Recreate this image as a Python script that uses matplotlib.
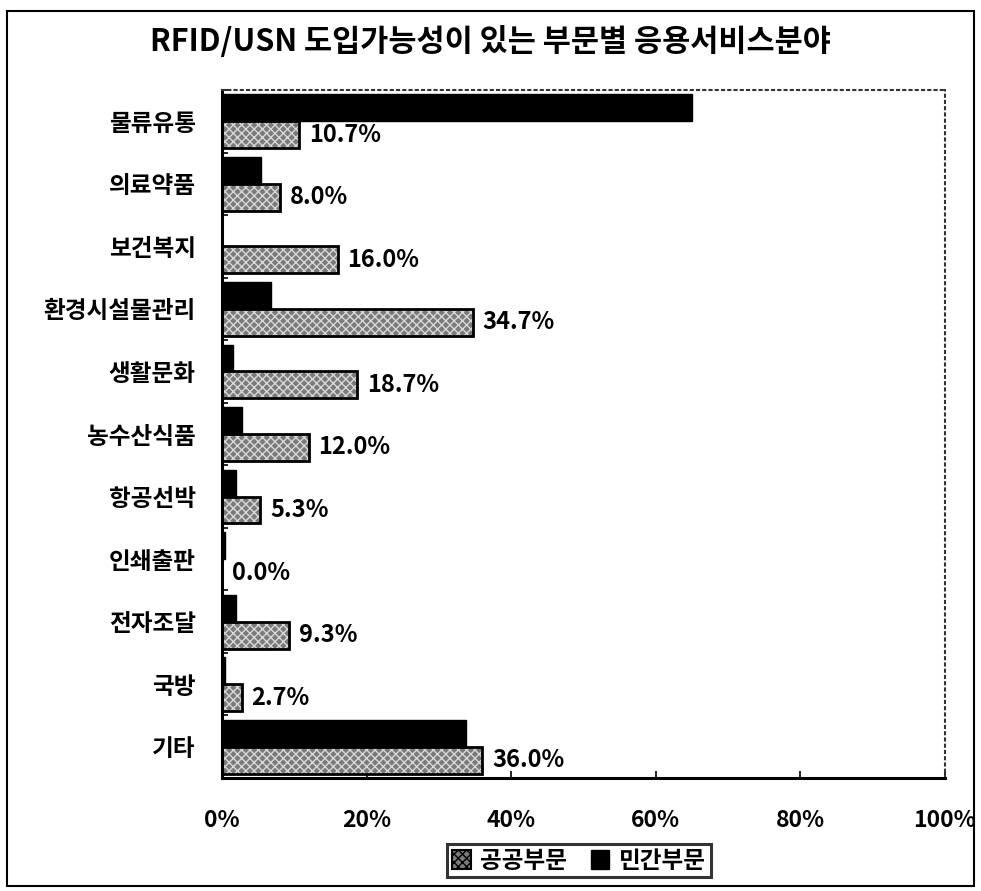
import numpy as np
import matplotlib.pyplot as plt
from matplotlib.patches import Rectangle, Patch

plt.rcParams['font.family'] = ['Noto Sans CJK KR', 'DejaVu Sans']
plt.rcParams['hatch.linewidth'] = 1.0

categories = ['물류유통', '의료약품', '보건복지', '환경시설물관리', '생활문화', '농수산식품',
              '항공선박', '인쇄출판', '전자조달', '국방', '기타']
public = [10.7, 8.0, 16.0, 34.7, 18.7, 12.0, 5.3, 0.0, 9.3, 2.7, 36.0]
private = [65.0, 5.4, 0.0, 6.8, 1.5, 2.7, 2.0, 0.4, 2.0, 0.4, 33.8]
xticks = [0, 20, 40, 60, 80, 100]

fig = plt.figure(figsize=(9.81, 8.91), dpi=100)
fig.patches.append(Rectangle((0.007, 0.006), 0.986, 0.982, transform=fig.transFigure,
                             fill=False, edgecolor='black', linewidth=1.5))
ax = fig.add_axes([0.2263, 0.1268, 0.737, 0.7722])

n = len(categories)
y = np.arange(n)
h = 0.43

# public: stippled grey with black outline
ax.barh(y + h/2, public, height=h, color='#7a7a7a', hatch='xxxx', edgecolor='#d8d8d8',
        linewidth=0, zorder=2)
ax.barh(y + h/2, public, height=h, fill=False, edgecolor='black', linewidth=2, zorder=3)
# private: black
ax.barh(y - h/2, private, height=h, color='black', edgecolor='black', linewidth=1, zorder=3)

for yi, v in zip(y, public):
    ax.annotate(f'{v:.1f}%', (v, yi + h/2), xytext=(7, 0), textcoords='offset points',
                va='center', ha='left', fontsize=17, fontweight='bold')

ax.set_ylim(n - 0.5, -0.5)
ax.set_xlim(0, 100)
ax.set_yticks(y)
ax.set_yticklabels(categories, fontsize=17, fontweight='bold')
ax.set_yticks(np.arange(n + 1) - 0.5, minor=True)
ax.tick_params(axis='y', which='major', length=0, pad=19)
ax.tick_params(axis='y', which='minor', direction='in', length=4, width=1.2)
ax.set_xticks(xticks)
ax.set_xticklabels([f'{t}%' for t in xticks], fontsize=16.5, fontweight='bold')
ax.tick_params(axis='x', direction='in', length=5, width=1.2, pad=22)

for s in ['left', 'bottom']:
    ax.spines[s].set_linewidth(2.2)
for s in ['top', 'right']:
    ax.spines[s].set_linestyle((0, (1, 2)))
    ax.spines[s].set_linewidth(1.5)
    ax.spines[s].set_color('#333333')

fig.text(0.5, 0.953, 'RFID/USN 도입가능성이 있는 부문별 응용서비스분야', ha='center',
         va='center', fontsize=22, fontweight='bold')

handles = [Patch(facecolor='#7a7a7a', hatch='xxxx', edgecolor='black', linewidth=1.5),
           Patch(facecolor='black', edgecolor='black')]
leg = fig.legend(handles, ['공공부문', '민간부문'], loc='center', bbox_to_anchor=(0.59, 0.034),
                 ncol=2, frameon=True, fancybox=False, edgecolor='black',
                 handlelength=0.8, handleheight=0.8, handletextpad=0.4, columnspacing=1.0,
                 borderpad=0.2, prop={'weight': 'bold', 'size': 17})
leg.get_frame().set_linewidth(2.2)

fig.savefig('out.png', dpi=100)
